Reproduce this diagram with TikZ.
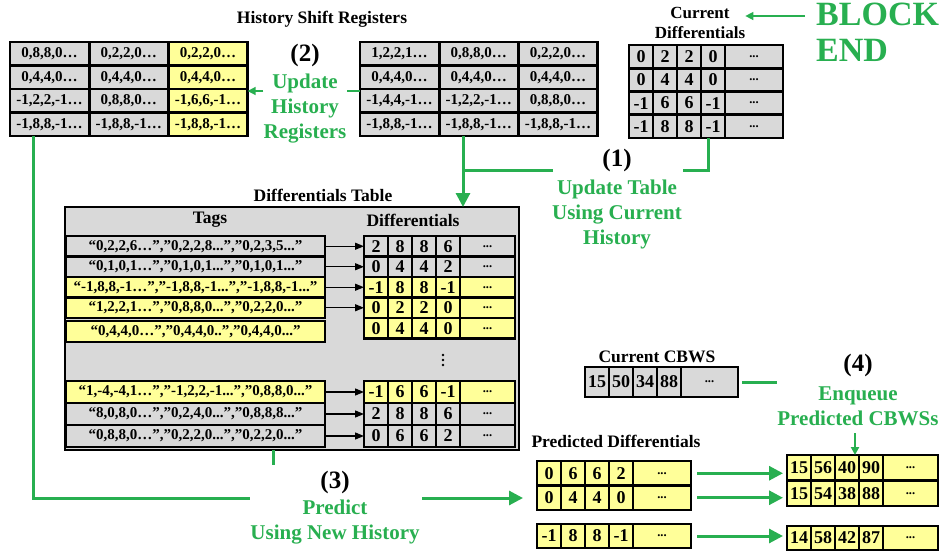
\documentclass[tikz,border=0pt]{standalone}
\usepackage{fontspec}
\setmainfont{Liberation Serif}
\usetikzlibrary{arrows.meta,calc,fit}
\definecolor{cgray}{RGB}{217,217,217}
\definecolor{cyel}{RGB}{255,255,153}
\definecolor{cgreen}{RGB}{40,175,80}
\newcommand{\fs}[1]{\fontsize{#1}{#1}\selectfont\bfseries}
\newcommand{\glabfont}{\fontsize{21}{25}\selectfont\bfseries}
\tikzset{
  cell/.style={draw, line width=2.6pt, inner sep=0pt, outer sep=0pt},
  rcell/.style={cell, minimum width=79.2pt, minimum height=23.5pt, font=\fs{15}},
  ncell/.style={cell, minimum width=24pt, font=\fs{18}},
  dcell/.style={cell, font=\fs{12.5}},
  tcell/.style={cell, minimum width=259pt, font=\fs{15}},
  ttl/.style={font=\fs{17.5}, inner sep=0pt},
  num/.style={font=\fs{25}, inner sep=0pt},
  glab/.style={text=cgreen, font=\glabfont, align=center, inner sep=0pt},
  gthick/.style={draw=cgreen, line width=3pt},
  gthin/.style={draw=cgreen, line width=1.5pt},
  gmid/.style={draw=cgreen, line width=2pt},
  garrow/.style={-{Triangle[length=14pt,width=14pt]}},
  garrowsmall/.style={-{Triangle[length=8pt,width=8pt]}},
  barrow/.style={draw=black, line width=1.3pt, -{Triangle[length=9pt,width=7pt]}},
  blockfit/.style={inner sep=0pt, outer sep=0pt}
}
% register row: prefix, x, y, fill of 3rd column, three texts
\newcommand{\regrow}[7]{%
  \node[rcell, fill=cgray, anchor=north west] (#1a) at (#2,#3) {#5};
  \node[rcell, fill=cgray, anchor=west] (#1b) at (#1a.east) {#6};
  \node[rcell, fill=#4, anchor=west] (#1c) at (#1b.east) {#7};
}
% differential row: prefix, x, y, options, dots width, four values
\newcommand{\drow}[9]{%
  \node[ncell, #4, anchor=north west] (#1a) at (#2,#3) {#6};
  \node[ncell, #4, anchor=west] (#1b) at (#1a.east) {#7};
  \node[ncell, #4, anchor=west] (#1c) at (#1b.east) {#8};
  \node[ncell, #4, anchor=west] (#1d) at (#1c.east) {#9};
  \node[dcell, #4, minimum width=#5, anchor=west] (#1e) at (#1d.east) {...};
}
\begin{document}
\begin{tikzpicture}[x=1pt,y=-1pt]
\useasboundingbox (0,0) rectangle (940,552);

% ---------- history shift registers ----------
\node[ttl] (hsrt) at (322,19) {History Shift Registers};
\regrow{la}{10}{42}{cyel}{0,8,8,0…}{0,2,2,0…}{0,2,2,0…}
\regrow{lb}{10}{65.5}{cyel}{0,4,4,0…}{0,4,4,0…}{0,4,4,0…}
\regrow{lc}{10}{89}{cyel}{-1,2,2,-1…}{0,8,8,0…}{-1,6,6,-1…}
\regrow{ld}{10}{112.5}{cyel}{-1,8,8,-1…}{-1,8,8,-1…}{-1,8,8,-1…}
\node[fit=(laa)(ldc), blockfit] (leftreg) {};

\regrow{ma}{360}{42}{cgray}{1,2,2,1…}{0,8,8,0…}{0,2,2,0…}
\regrow{mb}{360}{65.5}{cgray}{0,4,4,0…}{0,4,4,0…}{0,4,4,0…}
\regrow{mc}{360}{89}{cgray}{-1,4,4,-1…}{-1,2,2,-1…}{0,8,8,0…}
\regrow{md}{360}{112.5}{cgray}{-1,8,8,-1…}{-1,8,8,-1…}{-1,8,8,-1…}
\node[fit=(maa)(mdc), blockfit] (midreg) {};

% ---------- current differentials ----------
\node[font=\fontsize{17}{20}\selectfont\bfseries, align=center, inner sep=0pt] (cdt) at (700,23) {Current\\Differentials};
\drow{ca}{629}{45}{minimum height=23.25pt, fill=cgray}{58pt}{0}{2}{2}{0}
\drow{cb}{629}{68.25}{minimum height=23.25pt, fill=cgray}{58pt}{0}{4}{4}{0}
\drow{cc}{629}{91.5}{minimum height=23.25pt, fill=cgray}{58pt}{-1}{6}{6}{-1}
\drow{cd}{629}{114.75}{minimum height=23.25pt, fill=cgray}{58pt}{-1}{8}{8}{-1}
\node[fit=(caa)(cde), blockfit] (curdiff) {};

\node[text=cgreen, font=\fontsize{34}{36}\selectfont\bfseries, align=left, inner sep=0pt, anchor=west] (blk) at (816,32) {BLOCK\\END};
\coordinate (be) at (805,16);
\draw[gthin, garrowsmall] (be) -- (be -| cdt.east);

% ---------- step (2) ----------
\node[num] (n2) at (305,55) {(2)};
\node[glab] (lab2) at (305,108.5) {Update\\History\\Registers};
\coordinate (y2) at (0,91);
\draw[gthin] (mca.west |- y2) -- (lab2.east |- y2);
\draw[gthin, garrowsmall] (lab2.west |- y2) -- (lcc.east |- y2);

% ---------- step (1) ----------
\node[num] (n1) at (617,160) {(1)};
\node[glab] (lab1) at (617,214) {Update Table\\Using Current\\History};
\coordinate (c1r) at (683,170);
\coordinate (c1l) at (553,170);
\coordinate (j1) at (463,170);
\draw[gthick] ($(cdd.south)+(-5,0)$) |- (c1r);
\draw[gthick] (c1l) -- (j1);

% ---------- differentials table ----------
\node[ttl] (tblt) at (323,195) {Differentials Table};
\node[draw, fill=cgray, line width=2.8pt, minimum width=454pt, minimum height=243pt, anchor=north west, inner sep=0pt, outer sep=0pt] (tbl) at (65,207) {};
\draw[gthick, garrow] (j1 |- midreg.south) -- (j1 |- tbl.north);
\node[ttl] (tagsh) at (210,220) {Tags};
\node[ttl] (diffh) at (413,220) {Differentials};

\node[tcell, fill=cgray, minimum height=20.5pt, anchor=north west] (t1) at (66,236) {“0,2,2,6…”,”0,2,2,8...",”0,2,3,5..."};
\node[tcell, fill=cgray, minimum height=20.5pt, anchor=north west] (t2) at (66,256.5) {“0,1,0,1…”,”0,1,0,1...",”0,1,0,1..."};
\node[tcell, fill=cyel, minimum height=20.5pt, anchor=north west] (t3) at (66,277) {“-1,8,8,-1…”,”-1,8,8,-1...",”-1,8,8,-1..."};
\node[tcell, fill=cyel, minimum height=20.5pt, anchor=north west] (t4) at (66,297.5) {“1,2,2,1…”,”0,8,8,0...",”0,2,2,0..."};
\node[tcell, fill=cyel, minimum height=21pt, anchor=north west] (t5) at (66,321) {“0,4,4,0…”,”0,4,4,0..",”0,4,4,0..."};

\drow{da}{364}{236}{minimum height=20.5pt, fill=cgray}{55pt}{2}{8}{8}{6}
\drow{db}{364}{256.5}{minimum height=20.5pt, fill=cgray}{55pt}{0}{4}{4}{2}
\drow{dc}{364}{277}{minimum height=20.5pt, fill=cyel}{55pt}{-1}{8}{8}{-1}
\drow{dd}{364}{297.5}{minimum height=20.5pt, fill=cyel}{55pt}{0}{2}{2}{0}
\drow{de}{364}{318}{minimum height=20.5pt, fill=cyel}{55pt}{0}{4}{4}{0}

\draw[barrow] (t1.east) -- (daa.west);
\draw[barrow] (t2.east) -- (dba.west);
\draw[barrow] (t3.east) -- (dca.west);
\draw[barrow] (t4.east) -- (dda.west);

% vertical ellipsis
\foreach \yy in {355,360,365} \fill (443,\yy) circle (1.3pt);

\node[tcell, fill=cyel, minimum height=22pt, anchor=north west] (t6) at (66,381) {“1,-4,-4,1…”,”-1,2,2,-1...",”0,8,8,0..."};
\node[tcell, fill=cgray, minimum height=22pt, anchor=north west] (t7) at (66,403) {“8,0,8,0…”,”0,2,4,0...",”0,8,8,8..."};
\node[tcell, fill=cgray, minimum height=22pt, anchor=north west] (t8) at (66,425) {“0,8,8,0…”,”0,2,2,0...",”0,2,2,0..."};

\drow{df}{364}{381}{minimum height=22pt, fill=cyel}{55pt}{-1}{6}{6}{-1}
\drow{dg}{364}{403}{minimum height=22pt, fill=cgray}{55pt}{2}{8}{8}{6}
\drow{dh}{364}{425}{minimum height=22pt, fill=cgray}{55pt}{0}{6}{6}{2}

\draw[barrow] (t6.east) -- (dfa.west);
\draw[barrow] (t7.east) -- (dga.west);
\draw[barrow] (t8.east) -- (dha.west);

\draw[gthick] ($(tbl.south west)+(208,0)$) -- ++(0,15);

% ---------- predicted differentials ----------
\node[ttl] (pdt) at (616,441) {Predicted Differentials};
\drow{pa}{537}{461}{minimum height=24.5pt, fill=cyel}{58pt}{0}{6}{6}{2}
\drow{pb}{537}{485.5}{minimum height=24.5pt, fill=cyel}{58pt}{0}{4}{4}{0}
\drow{pc}{537}{524}{minimum height=24pt, fill=cyel}{58pt}{-1}{8}{8}{-1}

% ---------- step (3) ----------
\node[num] (n3) at (335,482) {(3)};
\node[glab] (lab3) at (335,522.5) {Predict\\Using New History};
\coordinate (c3l) at (250,498);
\coordinate (c3r) at (422,498);
\draw[gthick] ($(leftreg.south west)+(23,0)$) |- (c3l);
\draw[gthick, garrow, shorten >=14pt] (c3r) -- (c3r -| pba.west);

% ---------- CBWS ----------
\node[ttl] (cwt) at (657,357) {Current CBWS};
\drow{cw}{585}{367}{minimum height=30pt, fill=cgray}{57pt}{15}{50}{34}{88}

\drow{qa}{787}{455}{minimum height=25.5pt, fill=cyel}{55pt}{15}{56}{40}{90}
\drow{qb}{787}{480.5}{minimum height=25.5pt, fill=cyel}{55pt}{15}{54}{38}{88}
\drow{qc}{787}{526}{minimum height=24pt, fill=cyel}{55pt}{14}{58}{42}{87}

\draw[gthick, garrow, shorten <=6pt, shorten >=4pt] (pae.east) -- (pae.east -| qaa.west);
\draw[gthick, garrow, shorten <=6pt, shorten >=4pt] (pbe.east) -- (pbe.east -| qba.west);
\draw[gthick, garrow, shorten <=6pt, shorten >=4pt] (pce.east) -- (pce.east -| qca.west);

% ---------- step (4) ----------
\node[num] (n4) at (858,365) {(4)};
\node[glab] (lab4) at (858,406.5) {Enqueue\\Predicted CBWSs};
\coordinate (c4) at (777,383);
\draw[gthick, shorten <=4pt] (cwe.east) -- (cwe.east -| c4);
\coordinate (c4t) at (855,433);
\draw[gmid, garrowsmall] (c4t) -- (c4t |- qaa.north);
\end{tikzpicture}
\end{document}
